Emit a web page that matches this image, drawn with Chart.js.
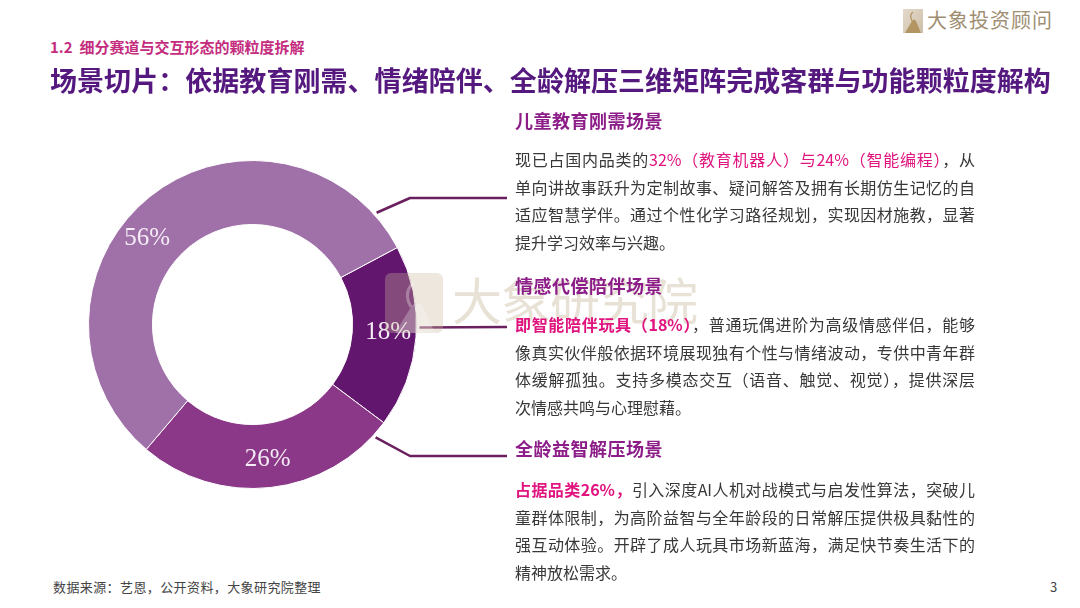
<!DOCTYPE html>
<html lang="zh">
<head>
<meta charset="utf-8">
<title>场景切片</title>
<script src="https://cdn.jsdelivr.net/npm/chart.js@4/dist/chart.umd.min.js"></script>
<style>
  html, body { margin: 0; padding: 0; background: #fff; }
  body { width: 1080px; height: 608px; position: relative; overflow: hidden;
         font-family: "Noto Sans CJK SC", "Noto Sans", sans-serif; }
  #chart { position: absolute; left: 0; top: 0; z-index: 1; }
  .abs { position: absolute; white-space: nowrap; }
  .sub { left: 50px; top: 37px; line-height: 20px; font-size: 15px; font-weight: 700; color: #C42C7E; }
  .title { left: 50px; top: 64px; line-height: 32px; font-size: 27px; font-weight: 700;
           color: #55187F; letter-spacing: 0.05px; z-index: 3; }
  .head { left: 515px; line-height: 24px; font-size: 18px; font-weight: 700; color: #8C1C88;
          letter-spacing: 0.5px; z-index: 3; }
  .body { left: 515px; width: 460px; font-size: 16px; line-height: 27.5px; color: #383838; z-index: 3; }
  .body div { text-align: justify; text-align-last: justify; white-space: nowrap; }
  .body div.last { text-align-last: left; }
  .pink { color: #E0137F; }
  .pinkb { color: #E0137F; font-weight: 700; }
  .foot { left: 53px; top: 578px; font-size: 13px; line-height: 18px; color: #444; letter-spacing: 0.4px; }
  .page { left: 1050px; top: 578px; font-size: 13px; line-height: 18px; color: #444; }
  .logo { left: 903px; top: 9px; }
  .logotext { left: 927px; top: 6px; font-size: 20px; line-height: 28px; color: #A08E72; letter-spacing: 1px; }
  .wm { left: 385px; top: 273px; z-index: 2; }
  .wmtext { left: 452px; top: 266px; font-size: 50px; line-height: 64px; color: rgba(195, 175, 145, 0.38);
            z-index: 2; letter-spacing: -1px; }
</style>
</head>
<body>
<canvas id="chart" width="1080" height="608"></canvas>

<div class="abs logo">
  <svg width="20" height="24" viewBox="0 0 20 24">
    <defs><linearGradient id="lg" x1="0" y1="0" x2="1" y2="1">
      <stop offset="0" stop-color="#E4DACB"/><stop offset="1" stop-color="#CDBFA8"/></linearGradient></defs>
    <rect width="20" height="24" fill="url(#lg)"/>
    <path d="M2 24 L9 12 Q11 9 13 12 L18 24 Z" fill="#B39463"/>
    <path d="M9 12 Q6 6 10 3" stroke="#B39463" stroke-width="1.2" fill="none"/>
  </svg>
</div>
<div class="abs logotext">大象投资顾问</div>

<div class="abs sub">1.2&nbsp; 细分赛道与交互形态的颗粒度拆解</div>
<div class="abs title">场景切片：依据教育刚需、情绪陪伴、全龄解压三维矩阵完成客群与功能颗粒度解构</div>

<div class="abs wm">
  <svg width="58" height="60" viewBox="0 0 58 60">
    <rect x="0" y="0" width="58" height="60" rx="6" fill="rgba(200, 182, 155, 0.33)"/>
    <path d="M10 60 L26 34 Q32 26 38 34 L50 60 Z" fill="rgba(255, 255, 255, 0.25)"/>
    <path d="M26 34 Q18 20 28 10" stroke="rgba(255, 255, 255, 0.3)" stroke-width="3" fill="none"/>
  </svg>
</div>
<div class="abs wmtext">大象研究院</div>

<div class="abs head" style="top:108px">儿童教育刚需场景</div>
<div class="abs body" style="top:146px">
  <div>现已占国内品类的<span class="pink">32%（教育机器人）与24%（智能编程）</span>，从</div>
  <div>单向讲故事跃升为定制故事、疑问解答及拥有长期仿生记忆的自</div>
  <div>适应智慧学伴。通过个性化学习路径规划，实现因材施教，显著</div>
  <div class="last">提升学习效率与兴趣。</div>
</div>

<div class="abs head" style="top:273px">情感代偿陪伴场景</div>
<div class="abs body" style="top:311px">
  <div><span class="pinkb">即智能陪伴玩具（18%）</span>，普通玩偶进阶为高级情感伴侣，能够</div>
  <div>像真实伙伴般依据环境展现独有个性与情绪波动，专供中青年群</div>
  <div>体缓解孤独。支持多模态交互（语音、触觉、视觉），提供深层</div>
  <div class="last">次情感共鸣与心理慰藉。</div>
</div>

<div class="abs head" style="top:436px">全龄益智解压场景</div>
<div class="abs body" style="top:476px">
  <div><span class="pinkb">占据品类26%，</span>引入深度AI人机对战模式与启发性算法，突破儿</div>
  <div>童群体限制，为高阶益智与全年龄段的日常解压提供极具黏性的</div>
  <div>强互动体验。开辟了成人玩具市场新蓝海，满足快节奏生活下的</div>
  <div class="last">精神放松需求。</div>
</div>

<div class="abs foot">数据来源：艺恩，公开资料，大象研究院整理</div>
<div class="abs page">3</div>

<script>
// data (order follows the ring clockwise from the 18% slice)
const categories = ['情感代偿陪伴', '全龄益智解压', '儿童教育刚需'];
const shares = [18, 26, 56];
const sliceColors = ['#63166E', '#8B3889', '#A070A8'];

/* value labels, drawn in the middle of each ring slice */
const sliceLabels = {
    id: 'sliceLabels',
    afterDatasetsDraw(chart, args, opts) {
        const ctx = chart.ctx;
        const arcs = chart.getDatasetMeta(0).data;
        ctx.save();
        ctx.font = opts.font;
        ctx.fillStyle = opts.color;
        ctx.textAlign = 'center';
        ctx.textBaseline = 'middle';
        arcs.forEach((arc, i) => {
            const shift = (opts.angleShift[i] || 0) * Math.PI / 180;
            const mid = (arc.startAngle + arc.endAngle) / 2 + shift;
            const r = (arc.innerRadius + arc.outerRadius) / 2 + opts.radiusPad;
            ctx.fillText(shares[i] + '%', arc.x + r * Math.cos(mid), arc.y + r * Math.sin(mid));
        });
        ctx.restore();
    }
};

/* elbow leader lines from the ring to the text blocks */
const leaders = {
    id: 'leaders',
    afterDraw(chart, args, opts) {
        const ctx = chart.ctx;
        const arc = chart.getDatasetMeta(0).data[0];
        ctx.save();
        ctx.strokeStyle = opts.color;
        ctx.lineWidth = opts.width;
        ctx.lineJoin = 'round';
        opts.lines.forEach(l => {
            const a = (l.angle - 90) * Math.PI / 180;
            const r = arc.outerRadius + 3;
            ctx.beginPath();
            ctx.moveTo(arc.x + r * Math.cos(a), arc.y + r * Math.sin(a));
            if (l.elbowX) ctx.lineTo(l.elbowX, l.y);
            ctx.lineTo(opts.endX, l.y);
            ctx.stroke();
        });
        ctx.restore();
    }
};

new Chart(document.getElementById('chart'), {
    type: 'doughnut',
    data: {
        labels: categories,
        datasets: [{
            data: shares,
            backgroundColor: sliceColors,
            borderColor: '#ffffff',
            borderWidth: 1
        }]
    },
    options: {
        responsive: false,
        animation: false,
        rotation: 62,
        cutout: '61%',
        layout: { padding: { left: 88, right: 663, top: 160, bottom: 119 } },
        plugins: {
            legend: { display: false },
            tooltip: { enabled: false },
            sliceLabels: {
                font: '25px "Liberation Serif", "DejaVu Serif", serif',
                color: '#F4ECF4',
                radiusPad: 4,
                angleShift: [-1, 0, -12]
            },
            leaders: {
                color: '#6A1F5E',
                width: 2.5,
                endX: 507,
                lines: [
                    { angle: 48, elbowX: 410, y: 198 },
                    { angle: 91, y: 327 },
                    { angle: 132.5, elbowX: 410, y: 456 }
                ]
            }
        }
    },
    plugins: [sliceLabels, leaders]
});
</script>
</body>
</html>
